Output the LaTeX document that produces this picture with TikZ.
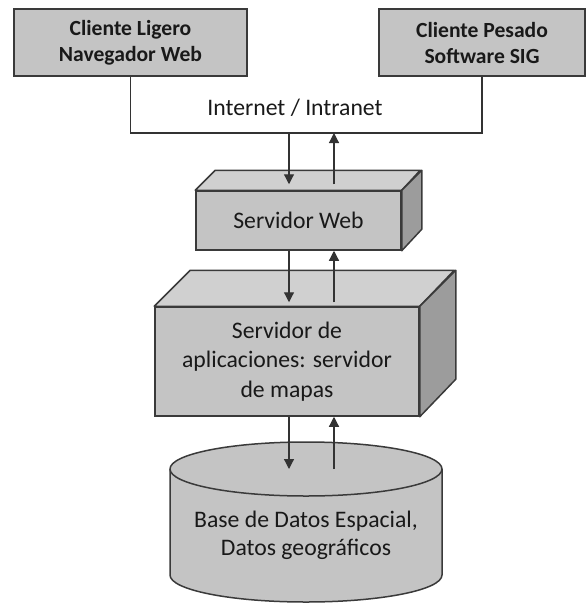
\documentclass[tikz,border=0pt]{standalone}
\usepackage{fontspec}
\setmainfont{Carlito}
\usetikzlibrary{arrows.meta,calc}

\definecolor{gris}{HTML}{C4C4C4}
\definecolor{grisclaro}{HTML}{D0D0D0}
\definecolor{grisoscuro}{HTML}{9C9C9C}
\definecolor{borde}{HTML}{3A3A3A}

\tikzset{
  cliente/.style={draw=borde, line width=1.5pt, fill=gris, minimum height=67pt,
    align=center, text=black!90, font=\fontsize{21.6}{26}\selectfont\bfseries},
  frente/.style={draw=borde, line width=1.5pt, fill=gris, align=center,
    text=black!90, font=\fontsize{23.7}{29.5}\selectfont},
  tapa/.style={draw=borde, line width=1.5pt, fill=grisclaro, line join=round},
  costado/.style={draw=borde, line width=1.5pt, fill=grisoscuro, line join=round},
  texto/.style={align=center, text=black!90, font=\fontsize{23.7}{28}\selectfont},
  linea/.style={draw=black!80, line width=1.2pt},
  flecha/.style={linea, -{Triangle[length=10pt,width=10pt]}},
}

\begin{document}
\begin{tikzpicture}[x=1pt,y=-1pt]
        \useasboundingbox (0,0) rectangle (586,603);

        % clientes y red
        \node [cliente, minimum width=233pt] (ligero) at (130.5,42.5) {Cliente Ligero\\Navegador Web};
        \node [cliente, minimum width=206pt] (pesado) at (482,42.5) {Cliente Pesado\\Software SIG};
        \node [texto] (red) at (295,108) {Internet / Intranet};
        \coordinate (bus) at (295,133);
        \draw [linea] (ligero.south) |- (bus) -| (pesado.south);

        % servidor web
        \node [frente, minimum width=205pt, minimum height=59pt] (web) at (298.5,220.5) {Servidor Web};
        \draw [tapa] (web.north west) -- ++(20,-20) -- ++(205,0) -- (web.north east) -- cycle;
        \draw [costado] (web.north east) -- ++(20,-20) -- ++(0,59) -- (web.south east) -- cycle;
        \coordinate (webtapa) at ($(web.north)+(0,-6)$);

        % servidor de aplicaciones
        \node [frente, minimum width=264pt, minimum height=109pt] (mapas) at (287,361.5) {Servidor de\\aplicaciones: servidor\\de mapas};
        \draw [tapa] (mapas.north west) -- ++(36,-36) -- ++(264,0) -- (mapas.north east) -- cycle;
        \draw [costado] (mapas.north east) -- ++(36,-36) -- ++(0,109) -- (mapas.south east) -- cycle;
        \coordinate (mapastapa) at ($(mapas.north)+(0,-4)$);

        % base de datos
        \draw [linea, line width=1.5pt, draw=borde, fill=gris] (170,469) -- (170,575)
          arc [start angle=180, end angle=0, x radius=136, y radius=27] -- (442,469)
          arc [start angle=0, end angle=-180, x radius=136, y radius=27] -- cycle;
        \draw [linea, line width=1.5pt, draw=borde] (170,469)
          arc [start angle=180, end angle=0, x radius=136, y radius=27];
        \coordinate (dbtapa) at (306,469);
        \node [texto] (db) at (306,535) {Base de Datos Espacial,\\Datos geográficos};

        % flechas
        \coordinate (bajada) at (289,0);
        \coordinate (subida) at (334,0);
        \draw [flecha] (bajada |- bus) -- (bajada |- webtapa);
        \draw [flecha] (subida |- webtapa) -- (subida |- bus);
        \draw [flecha] (bajada |- web.south) -- (bajada |- mapastapa);
        \draw [flecha] (subida |- mapastapa) -- (subida |- web.south);
        \draw [flecha] (bajada |- mapas.south) -- (bajada |- dbtapa);
        \draw [flecha] (subida |- dbtapa) -- (subida |- mapas.south);
\end{tikzpicture}
\end{document}
